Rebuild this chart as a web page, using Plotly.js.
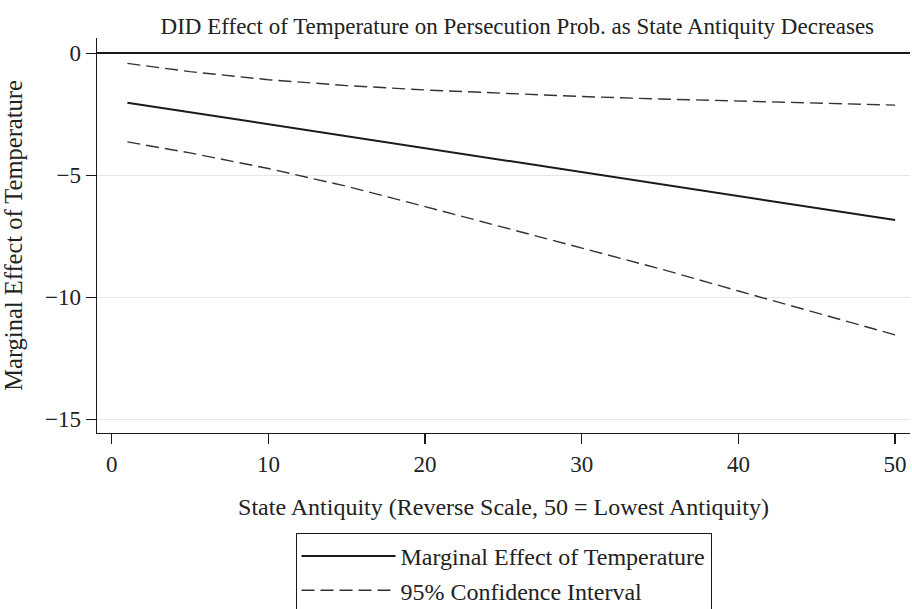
<!DOCTYPE html>
<html>
<head>
<meta charset="utf-8">
<script src="https://cdn.plot.ly/plotly-3.0.1.min.js"></script>
<style>html,body{margin:0;padding:0;background:#fff;}#chart{width:912px;height:609px;}</style>
</head>
<body>
<div id="chart"></div>
<script>
// State antiquity (reverse scale) evaluation points
const antiquity = [1, 5, 10, 15, 20, 25, 30, 35, 40, 45, 50];
// Marginal effect of temperature
const marginalEffect = [-2.02, -2.41, -2.90, -3.39, -3.89, -4.38, -4.87, -5.36, -5.85, -6.34, -6.83];
// 95% confidence interval bounds
const ciUpper = [-0.41, -0.75, -1.08, -1.32, -1.50, -1.65, -1.77, -1.87, -1.96, -2.04, -2.12];
const ciLower = [-3.63, -4.08, -4.72, -5.45, -6.28, -7.12, -7.97, -8.83, -9.74, -10.63, -11.54];
// Tick values and labels
const xTicks = [0, 10, 20, 30, 40, 50];
const xTickText = ['0', '10', '20', '30', '40', '50'];
const yTicks = [0, -5, -10, -15];
const yTickText = ['0', '\u22125', '\u221210', '\u221215'];

const FONT = 'Liberation Serif, Times New Roman, serif';
const TXT = '#222222';

const traces = [
  {x: antiquity, y: marginalEffect, type: 'scatter', mode: 'lines',
   name: 'Marginal Effect of Temperature',
   line: {color: '#1a1a1a', width: 2}},
  {x: antiquity, y: ciUpper, type: 'scatter', mode: 'lines',
   name: '95% Confidence Interval',
   line: {color: '#333333', width: 1.4, dash: '13px,6px'}},
  {x: antiquity, y: ciLower, type: 'scatter', mode: 'lines',
   name: '95% Confidence Interval', showlegend: false,
   line: {color: '#333333', width: 1.4, dash: '13px,6px'}}
];

const layout = {
  width: 912, height: 609,
  paper_bgcolor: '#ffffff', plot_bgcolor: '#ffffff',
  font: {family: FONT, size: 23, color: TXT},
  margin: {l: 97, r: 2, t: 38, b: 176, autoexpand: false},
  title: {text: 'DID Effect of Temperature on Persecution Prob. as State Antiquity Decreases',
          font: {family: FONT, size: 23, color: TXT},
          x: 0.517, xref: 'paper', xanchor: 'center', y: 0.957, yanchor: 'middle'},
  xaxis: {
    range: [-0.94, 50.95], tickvals: xTicks, ticktext: xTickText,
    showgrid: false, zeroline: false,
    showline: true, linecolor: '#1a1a1a', linewidth: 1.3,
    ticks: 'outside', ticklen: 10, tickwidth: 1.3, tickcolor: '#1a1a1a',
    tickfont: {family: FONT, size: 23, color: TXT},
    title: {text: 'State Antiquity (Reverse Scale, 50 = Lowest Antiquity)',
            font: {family: FONT, size: 24, color: TXT}, standoff: 22}
  },
  yaxis: {
    range: [-15.56, 0.63], tickvals: yTicks, ticktext: yTickText,
    showgrid: true, gridcolor: '#e6e6e6', gridwidth: 1.2,
    zeroline: true, zerolinecolor: '#1a1a1a', zerolinewidth: 2.2,
    showline: true, linecolor: '#1a1a1a', linewidth: 1.3,
    ticks: 'outside', ticklen: 10, tickwidth: 1.3, tickcolor: '#1a1a1a',
    tickfont: {family: FONT, size: 23, color: TXT},
    automargin: true,
    title: {text: 'Marginal Effect of Temperature',
            font: {family: FONT, size: 24.5, color: TXT}, standoff: 16}
  },
  showlegend: true,
  legend: {
    x: 0.5, xanchor: 'center', y: -0.253, yanchor: 'top',
    bordercolor: '#1a1a1a', borderwidth: 1, bgcolor: '#ffffff',
    font: {family: FONT, size: 24, color: TXT},
    itemwidth: 94, tracegroupgap: 0
  }
};

Plotly.newPlot('chart', traces, layout, {staticPlot: true, displayModeBar: false});
</script>
</body>
</html>
